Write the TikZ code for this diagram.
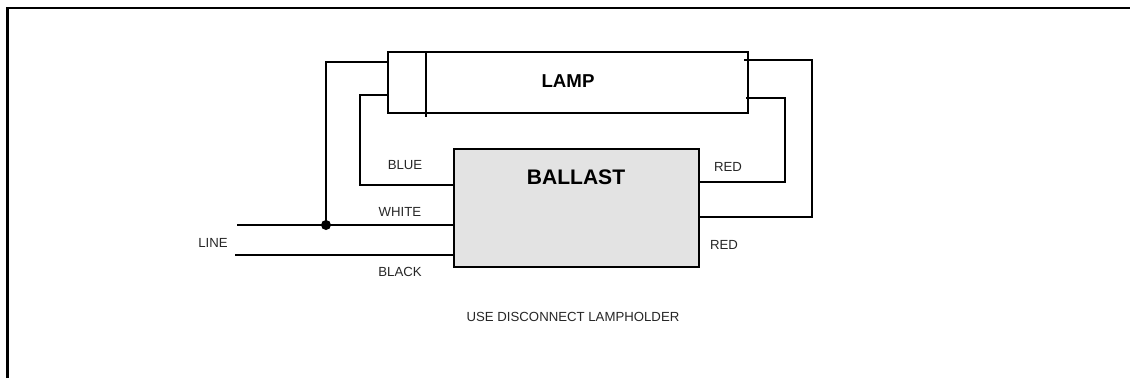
\documentclass[tikz,border=0pt]{standalone}
\usepackage{fontspec}
\setmainfont{Liberation Sans}
\begin{document}
\begin{tikzpicture}[x=0.75pt,y=-0.75pt,
  wire/.style={draw=black,line width=1.5pt,line join=miter},
  box/.style={draw=black,line width=1.7pt,inner sep=0pt,outer sep=0pt,anchor=north west},
  lbl/.style={inner sep=0pt,font=\fontsize{9.9}{11}\selectfont,text=black!85},
  title/.style={inner sep=0pt,font=\bfseries}]
\useasboundingbox (0,0) rectangle (1130,378);
\draw[line width=1.7pt] (7.5,378) -- (7.5,8) -- (1130,8);
\node[box,minimum width=270pt,minimum height=45.75pt] (lamp) at (388,52) {};
\node[box,fill=black!11,minimum width=183.75pt,minimum height=88.5pt] (ballast) at (454,149) {};
\coordinate (divT) at (426,52);
\coordinate (divB) at (426,116.5);
\draw[wire] (divT) -- (divB);
\coordinate (a1) at (388,62);
\coordinate (a2) at (326,62);
\coordinate (a3) at (326,225);
\coordinate (wR) at (454,225);
\coordinate (wL) at (237,225);
\coordinate (bR) at (454,255);
\coordinate (bL) at (235,255);
\coordinate (c1) at (388,95);
\coordinate (c2) at (360,95);
\coordinate (c3) at (360,185);
\coordinate (c4) at (454,185);
\coordinate (d1) at (744,60);
\coordinate (d2) at (812,60);
\coordinate (d3) at (812,217);
\coordinate (d4) at (699,217);
\coordinate (e1) at (746,98);
\coordinate (e2) at (785,98);
\coordinate (e3) at (785,182);
\coordinate (e4) at (699,182);
\draw[wire] (a1) -- (a2) -- (a3);
\draw[wire] (wL) -- (wR);
\draw[wire] (bL) -- (bR);
\draw[wire] (c1) -- (c2) -- (c3) -- (c4);
\draw[wire] (d1) -- (d2) -- (d3) -- (d4);
\draw[wire] (e1) -- (e2) -- (e3) -- (e4);
\fill[black] (a3) circle (5);
\node[title,font=\fontsize{14}{16}\bfseries\selectfont] (lamplbl) at (568,81.5) {LAMP};
\node[title,font=\fontsize{15.8}{18}\bfseries\selectfont] (ballastlbl) at (576,177) {BALLAST};
\node[lbl] (blue) at (405,165.5) {BLUE};
\node[lbl] (white) at (400,211.5) {WHITE};
\node[lbl] (black) at (400,271.5) {BLACK};
\node[lbl] (line) at (213,242.5) {LINE};
\node[lbl] (red1) at (728,166.5) {RED};
\node[lbl] (red2) at (724,244.5) {RED};
\node[lbl] (note) at (573,316.5) {USE DISCONNECT LAMPHOLDER};
\end{tikzpicture}
\end{document}
